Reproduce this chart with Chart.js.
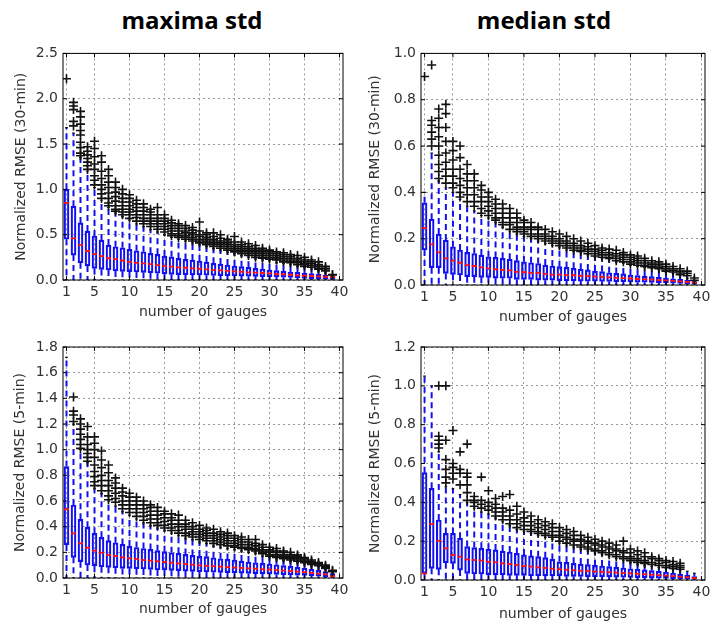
<!DOCTYPE html>
<html>
<head>
<meta charset="utf-8">
<script src="https://cdn.jsdelivr.net/npm/chart.js@4.4.0/dist/chart.umd.min.js"></script>
<style>
  html, body { margin: 0; padding: 0; background: #fff; }
  #page { position: relative; width: 710px; height: 625px; overflow: hidden; background: #fff; }
  .title { position: absolute; top: 3px; font: bold 24px "Open Sans", "Noto Sans", sans-serif; color: #000; transform: translateX(-50%); white-space: nowrap; }
  canvas { position: absolute; }
</style>
</head>
<body>
<div id="page">
  <div class="title" style="left:192px">maxima std</div>
  <div class="title" style="left:544px">median std</div>
  <canvas id="tl" width="355" height="295" style="left:0;top:40px"></canvas>
  <canvas id="tr" width="365" height="295" style="left:355px;top:40px"></canvas>
  <canvas id="bl" width="355" height="295" style="left:0;top:330px"></canvas>
  <canvas id="br" width="365" height="295" style="left:355px;top:330px"></canvas>
</div>
<script>
const GAUGES = [1, 2, 3, 4, 5, 6, 7, 8, 9, 10, 11, 12, 13, 14, 15, 16, 17, 18, 19, 20,
  21, 22, 23, 24, 25, 26, 27, 28, 29, 30, 31, 32, 33, 34, 35, 36, 37, 38, 39];
const X_TICKS = [1, 5, 10, 15, 20, 25, 30, 35, 40];
const LOWER_WHISKER = [0, 0, 0, 0, 0, 0, 0, 0, 0, 0, 0, 0, 0, 0, 0, 0, 0, 0, 0, 0,
  0, 0, 0, 0, 0, 0, 0, 0, 0, 0, 0, 0, 0, 0, 0, 0, 0, 0, 0];

// maxima std, 30-min
const MAX30_Q1 = [0.45, 0.275, 0.19, 0.155, 0.128, 0.117, 0.11, 0.1, 0.096, 0.092, 0.088, 0.085, 0.08, 0.074, 0.068, 0.062, 0.06, 0.058, 0.057, 0.055,
  0.052, 0.05, 0.048, 0.047, 0.044, 0.043, 0.041, 0.04, 0.038, 0.036, 0.033, 0.031, 0.029, 0.026, 0.018, 0.016, 0.014, 0.011, 0.007];
const MAX30_MED = [0.85, 0.46, 0.385, 0.32, 0.286, 0.264, 0.24, 0.23, 0.215, 0.2, 0.19, 0.183, 0.176, 0.165, 0.154, 0.147, 0.14, 0.135, 0.128, 0.124,
  0.117, 0.11, 0.106, 0.1, 0.095, 0.091, 0.084, 0.081, 0.077, 0.073, 0.066, 0.062, 0.058, 0.052, 0.047, 0.044, 0.04, 0.036, 0.033];
const MAX30_Q3 = [1.0, 0.815, 0.63, 0.54, 0.485, 0.44, 0.385, 0.367, 0.356, 0.338, 0.323, 0.312, 0.294, 0.283, 0.264, 0.256, 0.238, 0.227, 0.22, 0.21,
  0.198, 0.184, 0.176, 0.165, 0.154, 0.147, 0.14, 0.128, 0.121, 0.11, 0.103, 0.095, 0.088, 0.084, 0.077, 0.07, 0.062, 0.051, 0.044];
const MAX30_WHI = [1.68, 1.62, 1.35, 1.2, 1.02, 0.88, 0.8, 0.74, 0.7, 0.66, 0.62, 0.59, 0.56, 0.53, 0.5, 0.47, 0.45, 0.43, 0.41, 0.39,
  0.37, 0.35, 0.33, 0.31, 0.29, 0.27, 0.25, 0.23, 0.22, 0.21, 0.19, 0.18, 0.17, 0.15, 0.14, 0.12, 0.1, 0.08, 0.045];
const MAX30_OUT = [
  [2.22], [1.96, 1.92, 1.88, 1.75, 1.7], [1.86, 1.8, 1.72, 1.65, 1.6, 1.52, 1.46, 1.4, 1.37],
  [1.47, 1.42, 1.38, 1.34, 1.3, 1.26, 1.22], [1.53, 1.45, 1.36, 1.28, 1.22, 1.15, 1.1, 1.05],
  [1.37, 1.3, 1.2, 1.12, 1.05, 1.0, 0.95, 0.9], [1.22, 1.15, 1.08, 1.02, 0.96, 0.9, 0.85, 0.82],
  [1.08, 1.02, 0.97, 0.92, 0.87, 0.82, 0.78, 0.76], [1.0, 0.95, 0.9, 0.86, 0.82, 0.78, 0.75, 0.72],
  [0.94, 0.9, 0.86, 0.82, 0.78, 0.75, 0.72, 0.68], [0.88, 0.84, 0.8, 0.76, 0.72, 0.69, 0.65],
  [0.84, 0.8, 0.76, 0.72, 0.68, 0.65, 0.62], [0.78, 0.75, 0.72, 0.68, 0.65, 0.62, 0.59],
  [0.8, 0.72, 0.68, 0.65, 0.62, 0.59, 0.56], [0.72, 0.68, 0.65, 0.62, 0.59, 0.56, 0.53],
  [0.66, 0.63, 0.6, 0.57, 0.54, 0.51, 0.49], [0.62, 0.6, 0.57, 0.54, 0.51, 0.49, 0.47],
  [0.6, 0.57, 0.54, 0.52, 0.49, 0.47, 0.45], [0.58, 0.55, 0.52, 0.5, 0.47, 0.45, 0.43],
  [0.64, 0.54, 0.5, 0.48, 0.45, 0.43, 0.41], [0.52, 0.5, 0.47, 0.45, 0.43, 0.41, 0.39],
  [0.52, 0.48, 0.45, 0.43, 0.41, 0.39, 0.37], [0.5, 0.46, 0.43, 0.41, 0.39, 0.37, 0.35],
  [0.45, 0.43, 0.41, 0.39, 0.37, 0.35, 0.33], [0.48, 0.42, 0.39, 0.37, 0.35, 0.33, 0.31],
  [0.42, 0.39, 0.37, 0.35, 0.33, 0.31, 0.29], [0.4, 0.37, 0.35, 0.33, 0.31, 0.29, 0.27],
  [0.38, 0.35, 0.33, 0.31, 0.29, 0.27, 0.25], [0.35, 0.33, 0.31, 0.29, 0.27, 0.25, 0.24],
  [0.33, 0.31, 0.29, 0.27, 0.25, 0.23], [0.31, 0.29, 0.27, 0.25, 0.23, 0.22],
  [0.3, 0.28, 0.26, 0.24, 0.22, 0.2], [0.28, 0.26, 0.24, 0.22, 0.2, 0.19],
  [0.27, 0.24, 0.22, 0.2, 0.19, 0.17], [0.25, 0.22, 0.2, 0.18, 0.17, 0.15],
  [0.22, 0.2, 0.18, 0.16, 0.14], [0.2, 0.17, 0.15, 0.13, 0.12], [0.15, 0.13, 0.11, 0.1], [0.06, 0.055]
];

// median std, 30-min
const MED30_Q1 = [0.151, 0.075, 0.075, 0.05, 0.046, 0.043, 0.036, 0.036, 0.033, 0.033, 0.03, 0.029, 0.029, 0.024, 0.024, 0.024, 0.021, 0.021, 0.021, 0.018,
  0.018, 0.018, 0.017, 0.016, 0.016, 0.015, 0.015, 0.014, 0.014, 0.013, 0.012, 0.012, 0.011, 0.01, 0.009, 0.008, 0.007, 0.006, 0.004];
const MED30_MED = [0.247, 0.175, 0.141, 0.115, 0.105, 0.096, 0.086, 0.082, 0.076, 0.072, 0.068, 0.065, 0.063, 0.057, 0.055, 0.052, 0.052, 0.048, 0.045, 0.045,
  0.043, 0.042, 0.04, 0.038, 0.036, 0.035, 0.033, 0.031, 0.03, 0.028, 0.026, 0.025, 0.023, 0.021, 0.02, 0.018, 0.016, 0.013, 0.01];
const MED30_Q3 = [0.355, 0.284, 0.22, 0.194, 0.165, 0.151, 0.141, 0.136, 0.129, 0.122, 0.119, 0.115, 0.111, 0.105, 0.1, 0.096, 0.093, 0.086, 0.082, 0.079,
  0.076, 0.072, 0.068, 0.065, 0.06, 0.058, 0.053, 0.05, 0.048, 0.043, 0.041, 0.038, 0.036, 0.033, 0.03, 0.027, 0.024, 0.02, 0.015];
const MED30_WHI = [0.4, 0.57, 0.45, 0.42, 0.4, 0.37, 0.34, 0.32, 0.3, 0.29, 0.27, 0.25, 0.23, 0.22, 0.21, 0.2, 0.19, 0.18, 0.17, 0.16,
  0.15, 0.145, 0.14, 0.13, 0.12, 0.115, 0.11, 0.1, 0.095, 0.085, 0.08, 0.075, 0.07, 0.065, 0.055, 0.05, 0.04, 0.03, 0.018];
const MED30_OUT = [
  [0.9], [0.95, 0.71, 0.69, 0.66, 0.63, 0.6], [0.76, 0.72, 0.68, 0.64, 0.6, 0.56, 0.52, 0.49, 0.46],
  [0.78, 0.74, 0.68, 0.62, 0.57, 0.53, 0.5, 0.47, 0.44], [0.62, 0.58, 0.54, 0.5, 0.47, 0.44, 0.42],
  [0.6, 0.55, 0.5, 0.46, 0.43, 0.4, 0.38], [0.52, 0.48, 0.45, 0.42, 0.39, 0.36],
  [0.48, 0.45, 0.42, 0.39, 0.36, 0.34], [0.43, 0.41, 0.38, 0.36, 0.33, 0.31],
  [0.4, 0.38, 0.36, 0.34, 0.32, 0.3], [0.37, 0.35, 0.33, 0.31, 0.29, 0.28],
  [0.35, 0.33, 0.31, 0.29, 0.27, 0.26], [0.33, 0.31, 0.29, 0.27, 0.26, 0.24],
  [0.31, 0.29, 0.27, 0.25, 0.24, 0.23], [0.28, 0.27, 0.25, 0.24, 0.23, 0.22],
  [0.27, 0.25, 0.24, 0.22, 0.21], [0.25, 0.24, 0.22, 0.21, 0.2], [0.24, 0.22, 0.21, 0.2, 0.19],
  [0.23, 0.21, 0.2, 0.19, 0.18], [0.22, 0.2, 0.19, 0.18, 0.17], [0.21, 0.19, 0.18, 0.17, 0.16],
  [0.2, 0.18, 0.17, 0.16, 0.15], [0.19, 0.17, 0.16, 0.15, 0.145], [0.18, 0.165, 0.155, 0.145, 0.135],
  [0.17, 0.155, 0.145, 0.135, 0.125], [0.16, 0.15, 0.14, 0.13, 0.12], [0.155, 0.14, 0.13, 0.12, 0.115],
  [0.15, 0.135, 0.125, 0.115, 0.105], [0.14, 0.13, 0.12, 0.11, 0.1], [0.13, 0.12, 0.11, 0.1, 0.09],
  [0.125, 0.115, 0.105, 0.095, 0.085], [0.115, 0.105, 0.095, 0.085, 0.08], [0.105, 0.095, 0.088, 0.08, 0.075],
  [0.1, 0.09, 0.082, 0.075, 0.07], [0.09, 0.08, 0.072, 0.065, 0.06], [0.08, 0.07, 0.063, 0.056],
  [0.07, 0.06, 0.052, 0.045], [0.06, 0.05, 0.04], [0.03, 0.02]
];

// maxima std, 5-min
const MAX5_Q1 = [0.257, 0.161, 0.127, 0.101, 0.094, 0.088, 0.083, 0.08, 0.075, 0.075, 0.072, 0.07, 0.067, 0.062, 0.062, 0.06, 0.057, 0.054, 0.052, 0.049,
  0.047, 0.045, 0.044, 0.042, 0.04, 0.038, 0.036, 0.034, 0.032, 0.03, 0.028, 0.026, 0.024, 0.022, 0.02, 0.017, 0.014, 0.011, 0.006];
const MAX5_MED = [0.535, 0.348, 0.27, 0.236, 0.213, 0.197, 0.179, 0.171, 0.161, 0.153, 0.148, 0.14, 0.135, 0.13, 0.125, 0.119, 0.114, 0.109, 0.104, 0.098,
  0.095, 0.092, 0.088, 0.085, 0.082, 0.078, 0.075, 0.072, 0.068, 0.065, 0.062, 0.058, 0.054, 0.05, 0.046, 0.04, 0.034, 0.028, 0.015];
const MAX5_Q3 = [0.868, 0.569, 0.457, 0.395, 0.348, 0.317, 0.291, 0.275, 0.262, 0.249, 0.238, 0.23, 0.223, 0.213, 0.205, 0.197, 0.192, 0.184, 0.176, 0.171,
  0.166, 0.158, 0.15, 0.145, 0.14, 0.132, 0.125, 0.119, 0.114, 0.109, 0.103, 0.097, 0.09, 0.083, 0.076, 0.068, 0.06, 0.05, 0.035];
const MAX5_WHI = [1.72, 1.2, 1.0, 0.9, 0.7, 0.66, 0.6, 0.56, 0.52, 0.49, 0.46, 0.43, 0.41, 0.39, 0.37, 0.35, 0.33, 0.31, 0.3, 0.28,
  0.27, 0.25, 0.24, 0.23, 0.22, 0.21, 0.2, 0.19, 0.17, 0.16, 0.15, 0.14, 0.13, 0.12, 0.11, 0.1, 0.09, 0.07, 0.04];
const MAX5_OUT = [
  [], [1.41, 1.3, 1.27, 1.22], [1.24, 1.2, 1.16, 1.12, 1.08, 1.04, 1.01],
  [1.18, 1.1, 1.04, 1.0, 0.97, 0.94, 0.91], [1.1, 1.05, 1.0, 0.94, 0.88, 0.83, 0.79, 0.75, 0.72],
  [0.99, 0.92, 0.86, 0.8, 0.76, 0.72, 0.68], [0.88, 0.82, 0.76, 0.72, 0.68, 0.64, 0.61],
  [0.78, 0.74, 0.7, 0.66, 0.62, 0.59], [0.7, 0.67, 0.64, 0.6, 0.57, 0.54],
  [0.66, 0.63, 0.6, 0.57, 0.54, 0.51], [0.63, 0.6, 0.57, 0.54, 0.51, 0.48],
  [0.6, 0.57, 0.54, 0.51, 0.48, 0.45], [0.57, 0.55, 0.52, 0.49, 0.46, 0.43],
  [0.55, 0.52, 0.49, 0.46, 0.43, 0.41], [0.52, 0.5, 0.47, 0.44, 0.41, 0.39],
  [0.5, 0.47, 0.45, 0.42, 0.39, 0.37], [0.49, 0.45, 0.42, 0.4, 0.37, 0.35],
  [0.45, 0.42, 0.4, 0.38, 0.35, 0.33], [0.43, 0.4, 0.38, 0.36, 0.34, 0.32],
  [0.41, 0.38, 0.36, 0.34, 0.32, 0.3], [0.39, 0.37, 0.35, 0.33, 0.31, 0.29],
  [0.38, 0.35, 0.33, 0.31, 0.29, 0.27], [0.36, 0.34, 0.32, 0.3, 0.28, 0.26],
  [0.35, 0.33, 0.31, 0.29, 0.27, 0.25], [0.33, 0.31, 0.29, 0.27, 0.25, 0.24],
  [0.32, 0.3, 0.28, 0.26, 0.24, 0.23], [0.3, 0.28, 0.26, 0.24, 0.23, 0.22],
  [0.3, 0.27, 0.25, 0.23, 0.22, 0.21], [0.26, 0.24, 0.22, 0.21, 0.2, 0.19],
  [0.24, 0.22, 0.21, 0.2, 0.18, 0.17], [0.23, 0.21, 0.2, 0.18, 0.17, 0.16],
  [0.21, 0.2, 0.18, 0.17, 0.16, 0.15], [0.2, 0.18, 0.17, 0.16, 0.15, 0.14],
  [0.18, 0.17, 0.16, 0.15, 0.14, 0.13], [0.16, 0.15, 0.14, 0.13, 0.12],
  [0.14, 0.13, 0.12, 0.11, 0.105], [0.12, 0.11, 0.1, 0.095], [0.1, 0.09, 0.08, 0.075], [0.06, 0.05]
];

// median std, 5-min
const MED5_Q1 = [0.034, 0.06, 0.055, 0.089, 0.086, 0.051, 0.034, 0.031, 0.031, 0.026, 0.026, 0.026, 0.024, 0.024, 0.024, 0.022, 0.022, 0.021, 0.021, 0.021,
  0.019, 0.019, 0.018, 0.017, 0.017, 0.016, 0.016, 0.015, 0.014, 0.013, 0.012, 0.011, 0.01, 0.009, 0.008, 0.007, 0.006, 0.005, 0.004];
const MED5_MED = [0.034, 0.288, 0.202, 0.163, 0.129, 0.12, 0.106, 0.103, 0.1, 0.094, 0.091, 0.086, 0.082, 0.077, 0.072, 0.069, 0.065, 0.062, 0.058, 0.055,
  0.053, 0.05, 0.048, 0.046, 0.044, 0.042, 0.04, 0.038, 0.036, 0.034, 0.032, 0.03, 0.027, 0.025, 0.022, 0.02, 0.017, 0.014, 0.01];
const MED5_Q3 = [0.553, 0.472, 0.309, 0.24, 0.24, 0.215, 0.172, 0.167, 0.163, 0.158, 0.155, 0.149, 0.144, 0.137, 0.129, 0.124, 0.12, 0.115, 0.106, 0.094,
  0.091, 0.086, 0.082, 0.079, 0.075, 0.072, 0.069, 0.065, 0.062, 0.058, 0.055, 0.052, 0.048, 0.045, 0.041, 0.036, 0.03, 0.025, 0.018];
const MED5_WHI = [1.05, 1.0, 0.66, 0.48, 0.47, 0.44, 0.4, 0.37, 0.35, 0.34, 0.32, 0.3, 0.28, 0.26, 0.25, 0.24, 0.23, 0.22, 0.21, 0.19,
  0.18, 0.17, 0.16, 0.15, 0.14, 0.13, 0.12, 0.11, 0.1, 0.09, 0.08, 0.075, 0.07, 0.065, 0.06, 0.055, 0.05, 0.045, 0.035];
const MED5_OUT = [
  [], [], [1.0, 0.74, 0.72, 0.7, 0.68], [1.0, 0.72, 0.62, 0.57, 0.53, 0.5],
  [0.77, 0.6, 0.58, 0.55, 0.52], [0.66, 0.57, 0.55, 0.49], [0.7, 0.55, 0.53, 0.49, 0.45, 0.41],
  [0.43, 0.41, 0.4, 0.38], [0.53, 0.41, 0.39, 0.37], [0.46, 0.4, 0.38, 0.36],
  [0.42, 0.39, 0.37, 0.35, 0.33], [0.43, 0.37, 0.35, 0.33, 0.31], [0.44, 0.36, 0.33, 0.31, 0.29],
  [0.38, 0.34, 0.31, 0.29, 0.27], [0.35, 0.32, 0.3, 0.28, 0.26], [0.33, 0.3, 0.28, 0.26, 0.25],
  [0.31, 0.29, 0.27, 0.25, 0.24], [0.3, 0.28, 0.26, 0.24, 0.23], [0.29, 0.27, 0.25, 0.23, 0.22],
  [0.27, 0.25, 0.23, 0.22, 0.2], [0.26, 0.24, 0.22, 0.21, 0.19], [0.25, 0.23, 0.21, 0.2, 0.18],
  [0.23, 0.21, 0.2, 0.18, 0.17], [0.22, 0.2, 0.19, 0.17, 0.16], [0.21, 0.19, 0.18, 0.16, 0.15],
  [0.2, 0.18, 0.17, 0.15, 0.14], [0.19, 0.17, 0.16, 0.14, 0.13], [0.18, 0.16, 0.15, 0.13, 0.12],
  [0.2, 0.15, 0.14, 0.12, 0.11], [0.16, 0.14, 0.12, 0.11, 0.1], [0.15, 0.13, 0.11, 0.1, 0.09],
  [0.14, 0.12, 0.1, 0.09, 0.085], [0.12, 0.11, 0.09, 0.08], [0.11, 0.1, 0.085, 0.075],
  [0.1, 0.09, 0.075, 0.065], [0.095, 0.08, 0.07, 0.06], [0.086, 0.075, 0.065, 0.055], [], []
];

const TEXT_COLOR = '#333';
const BOX_BLUE = '#1010f0';

// black frame + inward tick marks like the old matplotlib style
const framePlugin = {
    id: 'frame',
    afterDatasetsDraw(chart) {
        const { ctx, chartArea: a, scales: { x, y } } = chart;
        ctx.save();
        ctx.strokeStyle = '#000';
        ctx.lineWidth = 1;
        ctx.strokeRect(a.left, a.top, a.right - a.left, a.bottom - a.top);
        ctx.beginPath();
        x.ticks.forEach(t => {
            const px = x.getPixelForValue(t.value);
            ctx.moveTo(px, a.bottom); ctx.lineTo(px, a.bottom - 4);
            ctx.moveTo(px, a.top); ctx.lineTo(px, a.top + 4);
        });
        y.ticks.forEach(t => {
            const py = y.getPixelForValue(t.value);
            ctx.moveTo(a.left, py); ctx.lineTo(a.left + 4, py);
            ctx.moveTo(a.right, py); ctx.lineTo(a.right - 4, py);
        });
        ctx.stroke();
        ctx.restore();
    }
};

function drawPanel(canvasId, p) {
    const boxes = GAUGES.map((g, i) => ({ x: g, y: [p.q1[i], p.q3[i]] }));
    const whiskers = [];
    const caps = [];
    const outliers = [];
    GAUGES.forEach((g, i) => {
        whiskers.push({ x: g, y: p.q3[i] }, { x: g, y: p.hi[i] }, { x: g, y: null });
        whiskers.push({ x: g, y: p.q1[i] }, { x: g, y: LOWER_WHISKER[i] }, { x: g, y: null });
        caps.push({ x: g, y: p.hi[i] }, { x: g, y: LOWER_WHISKER[i] });
        p.out[i].forEach(v => outliers.push({ x: g, y: v }));
    });
    const medians = GAUGES.map((g, i) => ({ x: g, y: p.med[i] }));

    const font = { family: 'DejaVu Sans', size: 14 };

    new Chart(document.getElementById(canvasId), {
        type: 'scatter',
        data: {
            datasets: [
                {
                    type: 'line', data: whiskers, borderColor: BOX_BLUE, borderWidth: 2,
                    borderDash: [6, 4], pointRadius: 0, spanGaps: false, order: 4
                },
                {
                    type: 'bar', data: boxes, backgroundColor: 'rgba(0,0,0,0)', borderColor: BOX_BLUE,
                    borderWidth: 1.5, borderSkipped: false, barThickness: 5, grouped: false, order: 3
                },
                {
                    data: medians, pointStyle: 'line', radius: 2.5, borderColor: '#ff1010',
                    borderWidth: 1.8, order: 2
                },
                {
                    data: caps, pointStyle: 'line', radius: 1.3, borderColor: '#000',
                    borderWidth: 1.2, order: 1
                },
                {
                    data: outliers, pointStyle: 'cross', radius: 4.5, borderColor: '#111',
                    borderWidth: 1.6, order: 0
                }
            ]
        },
        options: {
            responsive: false,
            animation: false,
            events: [],
            layout: { padding: p.pad },
            plugins: { legend: { display: false }, tooltip: { enabled: false } },
            scales: {
                x: {
                    type: 'linear', min: 0.5, max: 40.5, offset: false,
                    afterBuildTicks: s => { s.ticks = X_TICKS.map(v => ({ value: v })); },
                    afterFit: s => { s.height = p.xAxisH; },
                    grid: { color: '#9a9a9a', lineWidth: 1, drawTicks: false, offset: false },
                    border: { display: false, dash: [2, 3] },
                    ticks: { font, color: TEXT_COLOR, padding: 4, maxRotation: 0, autoSkip: false },
                    title: {
                        display: true, text: 'number of gauges', font, color: TEXT_COLOR,
                        padding: { top: 0, bottom: p.xTitlePad }
                    }
                },
                y: {
                    type: 'linear', min: 0, max: p.yMax,
                    afterFit: s => { s.width = p.yAxisW; },
                    grid: { color: '#9a9a9a', lineWidth: 1, drawTicks: false },
                    border: { display: false, dash: [2, 3] },
                    ticks: { font, color: TEXT_COLOR, padding: 5, stepSize: p.yStep, callback: v => v.toFixed(1) },
                    title: {
                        display: true, text: p.yTitle, font, color: TEXT_COLOR,
                        padding: { top: p.yTitlePad, bottom: 0 }
                    }
                }
            }
        },
        plugins: [framePlugin]
    });
}

drawPanel('tl', {
    q1: MAX30_Q1, med: MAX30_MED, q3: MAX30_Q3, hi: MAX30_WHI, out: MAX30_OUT,
    yMax: 2.5, yStep: 0.5, yTitle: 'Normalized RMSE (30-min)',
    pad: { left: 0, top: 13, right: 12, bottom: 0 }, yAxisW: 63, xAxisH: 55, xTitlePad: 14, yTitlePad: 13
});
drawPanel('tr', {
    q1: MED30_Q1, med: MED30_MED, q3: MED30_Q3, hi: MED30_WHI, out: MED30_OUT,
    yMax: 1.0, yStep: 0.2, yTitle: 'Normalized RMSE (30-min)',
    pad: { left: 0, top: 13, right: 15, bottom: 0 }, yAxisW: 66, xAxisH: 50, xTitlePad: 9, yTitlePad: 12
});
drawPanel('bl', {
    q1: MAX5_Q1, med: MAX5_MED, q3: MAX5_Q3, hi: MAX5_WHI, out: MAX5_OUT,
    yMax: 1.8, yStep: 0.2, yTitle: 'Normalized RMSE (5-min)',
    pad: { left: 0, top: 17, right: 12, bottom: 0 }, yAxisW: 63, xAxisH: 47, xTitlePad: 7, yTitlePad: 12
});
drawPanel('br', {
    q1: MED5_Q1, med: MED5_MED, q3: MED5_Q3, hi: MED5_WHI, out: MED5_OUT,
    yMax: 1.2, yStep: 0.2, yTitle: 'Normalized RMSE (5-min)',
    pad: { left: 0, top: 17, right: 15, bottom: 0 }, yAxisW: 66, xAxisH: 45, xTitlePad: 2, yTitlePad: 12
});
</script>
</body>
</html>
